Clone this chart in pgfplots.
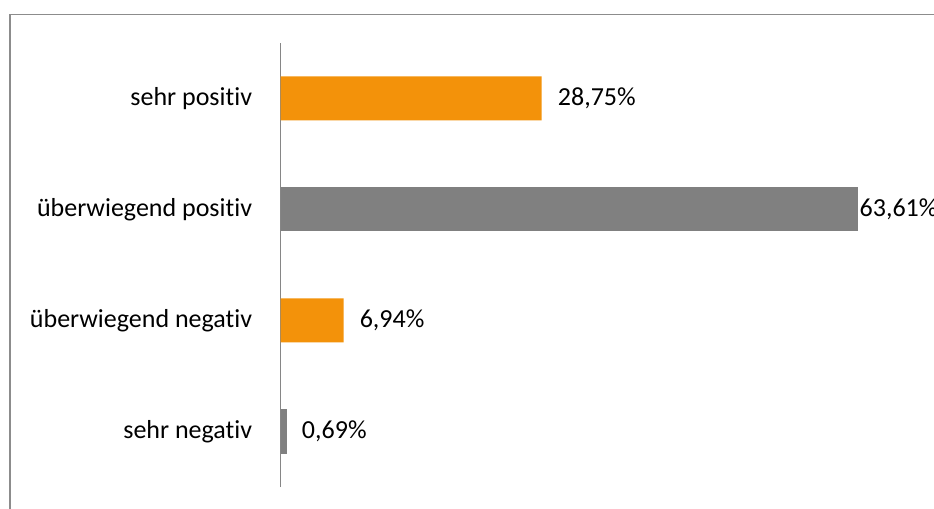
\documentclass[border=0pt]{standalone}
\usepackage{pgfplots}
\pgfplotsset{compat=1.18}
\usepackage{fontspec}
\setmainfont{Carlito}[Ligatures={NoCommon}]
\definecolor{barorange}{RGB}{243,146,10}
\definecolor{bargray}{RGB}{128,128,128}
\definecolor{axisgray}{RGB}{134,134,134}
\definecolor{framegray}{RGB}{140,140,140}
\begin{document}
\fontsize{26bp}{31bp}\selectfont
\begin{tikzpicture}
\path[use as bounding box, clip] (0,0) rectangle (934bp,509bp);
\fill[white] (0,0) rectangle (934bp,509bp);
\draw[framegray, line width=1.5bp] (9.75bp,-10bp) |- (950bp,494.25bp);
\begin{axis}[
  at={(280.5bp,22bp)}, anchor=south west,
  scale only axis, width=653.5bp, height=444bp,
  xbar, bar width=44bp, bar shift=0pt,
  xmin=0, xmax=71.92, ymin=-0.5, ymax=3.5,
  axis x line=none,
  axis y line*=left,
  y axis line style={axisgray, line width=1.8bp, -},
  ytick={0,1,2,3},
  yticklabels={sehr negativ, überwiegend negativ, überwiegend positiv, sehr positiv},
  ytick style={draw=none},
  yticklabel style={font=\fontsize{26bp}{31bp}\selectfont, inner sep=0pt, xshift=-24bp},
  clip=false,
  nodes near coords={\pgfmathprintnumber[fixed,fixed zerofill,precision=2,use comma,assume math mode=true]{\pgfplotspointmeta}\%},
  nodes near coords style={font=\fontsize{26bp}{31bp}\selectfont, inner sep=0pt, anchor=west, text=black},
  point meta=x,
]
\addplot[fill=barorange, draw=none, nodes near coords style={xshift=16bp}] coordinates {(28.75,3) (6.94,1)};
\addplot[fill=bargray, draw=none, nodes near coords style={xshift=15bp}] coordinates {(0.69,0)};
\addplot[fill=bargray, draw=none, nodes near coords style={xshift=1bp}] coordinates {(63.61,2)};
\end{axis}
\end{tikzpicture}
\end{document}
